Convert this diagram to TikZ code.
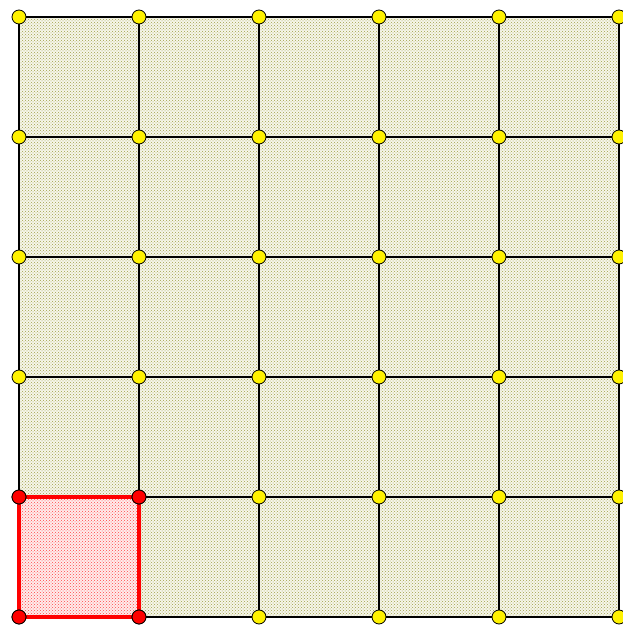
\documentclass[tikz,border=0pt]{standalone}
\usetikzlibrary{patterns}
\definecolor{olivedot}{HTML}{A0A048}
\definecolor{olivebase}{HTML}{F6F6EA}
\definecolor{reddot}{HTML}{FF4848}
\definecolor{redbase}{HTML}{FFECEC}
\tikzset{
  vert/.style={circle,draw=black,line width=0.8pt,fill=yellow,minimum size=14pt,inner sep=0pt},
  redvert/.style={vert,fill=red},
  gridline/.style={draw=black,line width=1.6pt},
  redline/.style={draw=red,line width=4pt},
}
\begin{document}
\begin{tikzpicture}[x=1pt,y=1pt]
\useasboundingbox (0,0) rectangle (623,627);
% background fill
\fill[olivebase] (19,10) rectangle (619,610);
\fill[pattern=crosshatch dots,pattern color=olivedot] (19,10) rectangle (619,610);
\fill[redbase] (19,10) rectangle (139,130);
\fill[pattern=crosshatch dots,pattern color=reddot] (19,10) rectangle (139,130);
% vertices
\foreach \i in {0,...,5}{
  \foreach \j in {0,...,5}{
    \coordinate (p-\i-\j) at (19+120*\i,610-120*\j);
  }
}
% grid lines
\foreach \k in {0,...,5}{
  \draw[gridline] (p-\k-0) -- (p-\k-5);
  \draw[gridline] (p-0-\k) -- (p-5-\k);
}
\draw[redline] (p-0-4) -- (p-1-4) -- (p-1-5) -- (p-0-5) -- cycle;
\foreach \i in {0,...,5}{
  \foreach \j in {0,...,5}{
    \node[vert] (v-\i-\j) at (p-\i-\j) {};
  }
}
\node[redvert] (r1) at (p-0-4) {};
\node[redvert] (r2) at (p-1-4) {};
\node[redvert] (r3) at (p-0-5) {};
\node[redvert] (r4) at (p-1-5) {};
\end{tikzpicture}
\end{document}
